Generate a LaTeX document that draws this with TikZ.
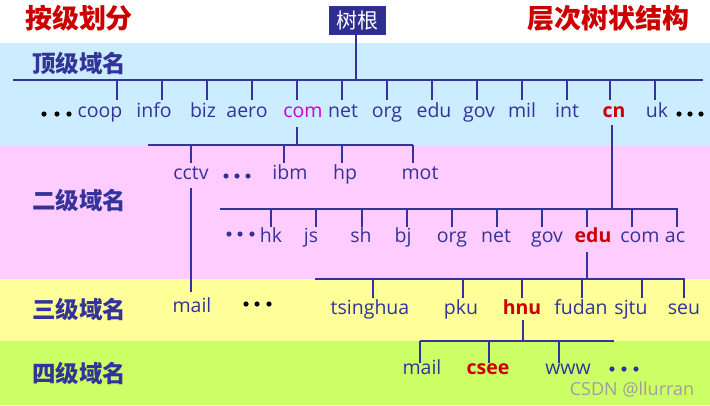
\documentclass[tikz,border=0pt]{standalone}
\usepackage{fontspec}
\setmainfont{Open Sans}
\newfontfamily\cjk{Noto Sans CJK SC}
\definecolor{dblue}{HTML}{333399}
\definecolor{dred}{HTML}{CC0000}
\definecolor{mag}{HTML}{CC00CC}
\definecolor{bandA}{HTML}{CCECFF}
\definecolor{bandB}{HTML}{FFCCFF}
\definecolor{bandC}{HTML}{FFFF99}
\definecolor{bandD}{HTML}{CCFF66}
\definecolor{rootc}{HTML}{2E2E8F}
\tikzset{
  lbl/.style={text=dblue, font=\fontsize{19.5}{19.5}\selectfont, inner sep=0pt, anchor=base},
  hot/.style={lbl, text=dred, font=\bfseries\fontsize{19.5}{19.5}\selectfont},
  lvl/.style={text=dblue, font=\cjk\bfseries\fontsize{23.5}{23.5}\selectfont, inner sep=0pt},
  ttl/.style={text=dred, font=\cjk\bfseries\fontsize{27}{27}\selectfont, inner sep=0pt},
  ln/.style={draw=dblue, line width=2.2pt},
  dotb/.style={fill=black, draw=none},
  dotu/.style={fill=dblue, draw=none},
}
\newcommand\tk[3]{\draw[ln] (#1,#2) -- (#1,#3);}
\newcommand\threedots[5]{\fill[#1] (#2,#5) circle (2.6) (#3,#5) circle (2.6) (#4,#5) circle (2.6);}
\begin{document}
\begin{tikzpicture}[x=1pt,y=-1pt]
\useasboundingbox (0,0) rectangle (710,405);
% bands
\fill[white] (0,0) rectangle (710,43);
\fill[bandA] (0,43) rectangle (710,145);
\fill[bandB] (0,145) rectangle (710,279);
\fill[bandC] (0,279) rectangle (710,341);
\fill[bandD] (0,341) rectangle (710,405);
% titles
\node[ttl] (t1) at (79,18) {按级划分};
\node[ttl] (t2) at (608,18) {层次树状结构};
\node[fill=rootc, draw=dblue, line width=0.8pt, text=white, font=\cjk\fontsize{21}{21}\selectfont,
      minimum width=56pt, minimum height=28pt, inner sep=0pt] (root) at (357,20.5) {树根};
% level labels
\node[lvl] (l1) at (79,63) {顶级域名};
\node[lvl] (l2) at (79,200) {二级域名};
\node[lvl] (l3) at (79,309) {三级域名};
\node[lvl] (l4) at (79,373) {四级域名};

% ---- top level
\coordinate (b1L) at (13,80);
\coordinate (b1R) at (703,80);
\draw[ln] (b1L) -- (b1R);
\draw[ln] (root.south -| 356,0) -- (356,80);
\foreach \x in {117,162,207,252,297,342,387,432,477,522,567,610,655} {\tk{\x}{80}{100}}
\node[lbl] (coop) at (100,117) {coop};
\node[lbl] (info) at (154,117) {info};
\node[lbl] (biz) at (203,117) {biz};
\node[lbl] (aero) at (247,117) {aero};
\node[lbl, text=mag] (com) at (303,117) {com};
\node[lbl] (net) at (343,117) {net};
\node[lbl] (org) at (387,117) {org};
\node[lbl] (edu) at (434,117) {edu};
\node[lbl] (gov) at (479,117) {gov};
\node[lbl] (mil) at (522,117) {mil};
\node[lbl] (int) at (567,117) {int};
\node[hot] (cn) at (614,117) {cn};
\node[lbl] (uk) at (657,117) {uk};
\threedots{dotb}{44}{57}{69}{114}
\threedots{dotb}{679}{690}{701}{114}

% ---- com children
\draw[ln] (297,127) -- (297,145);
\draw[ln] (148,145) -- (413,145);
\foreach \x in {191,284,342,413} {\tk{\x}{145}{163}}
\node[lbl] (cctv) at (191,179) {cctv};
\node[lbl] (ibm) at (290,179) {ibm};
\node[lbl] (hp) at (345,179) {hp};
\node[lbl] (mot) at (420,179) {mot};
\threedots{dotu}{226}{237}{248}{176}
\draw[ln] (191,188) -- (191,292);
\node[lbl] (mailc) at (192,312) {mail};
\threedots{dotb}{246}{257}{269}{304}

% ---- cn children
\draw[ln] (612,125) -- (612,209);
\draw[ln] (220,209) -- (678,209);
\foreach \x in {271,316,362,407,452,497,542,587,632,677} {\tk{\x}{209}{227}}
\threedots{dotu}{229}{240}{252}{234}
\node[lbl] (hk) at (271,242) {hk};
\node[lbl] (js) at (311,242) {js};
\node[lbl] (sh) at (361,242) {sh};
\node[lbl] (bj) at (403,242) {bj};
\node[lbl] (org2) at (452,242) {org};
\node[lbl] (net2) at (496,242) {net};
\node[lbl] (gov2) at (547,242) {gov};
\node[hot] (edu2) at (593,242) {edu};
\node[lbl] (com2) at (640,242) {com};
\node[lbl] (ac) at (675,242) {ac};

% ---- edu children
\draw[ln] (587,252) -- (587,279);
\draw[ln] (315,279) -- (685,279);
\foreach \x in {373,463,522,582,642,684} {\tk{\x}{279}{298}}
\node[lbl] (tsing) at (370,314) {tsinghua};
\node[lbl] (pku) at (461,314) {pku};
\node[hot] (hnu) at (522,314) {hnu};
\node[lbl] (fudan) at (581,314) {fudan};
\node[lbl] (sjtu) at (631,314) {sjtu};
\node[lbl] (seu) at (684,314) {seu};

% ---- hnu children
\draw[ln] (523,320) -- (523,341);
\draw[ln] (420,341) -- (614,341);
\foreach \x in {420,489,559} {\tk{\x}{341}{363}}
\node[lbl] (mail) at (422,374) {mail};
\node[hot] (csee) at (488,374) {csee};
\node[lbl] (www) at (568,374) {www};
\threedots{dotu}{612}{624}{636}{369}

% watermark
\node[anchor=base, text=gray!75, font=\fontsize{18}{18}\selectfont, inner sep=0pt] (wm) at (632,395) {CSDN @llurran};
\end{tikzpicture}
\end{document}
